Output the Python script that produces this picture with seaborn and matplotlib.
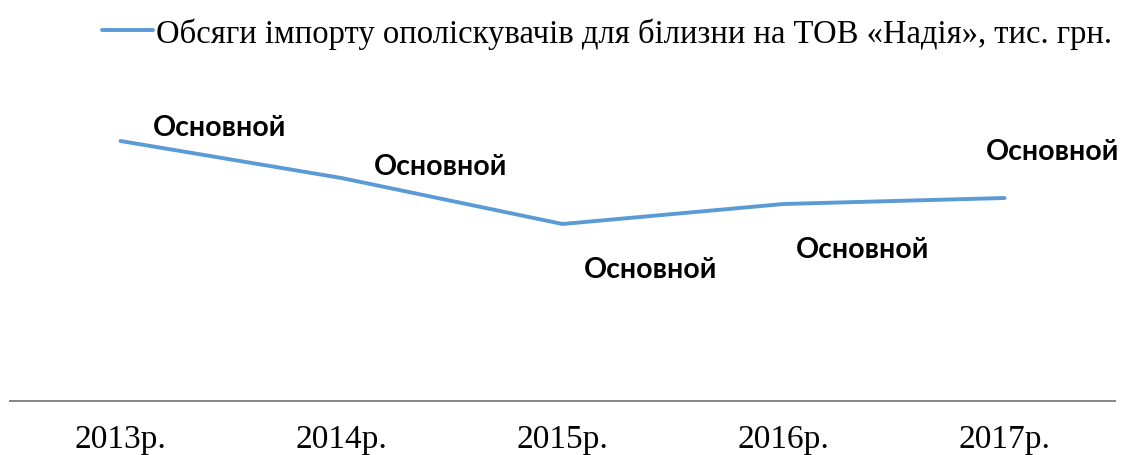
import matplotlib
matplotlib.use("Agg")
import matplotlib.pyplot as plt
import seaborn as sns
import pandas as pd

# data (no y scale shown, relative units)
years = ["2013р.", "2014р.", "2015р.", "2016р.", "2017р."]
import_volume = [260, 223, 177, 197, 203]
point_labels = ["Основной", "Основной", "Основной", "Основной", "Основной"]
series_name = "Обсяги імпорту ополіскувачів для білизни на ТОВ «Надія», тис. грн."

df = pd.DataFrame({"year": years, "value": import_volume})

sns.set_style("white")
plt.rcParams["font.family"] = ["Liberation Serif", "DejaVu Serif"]
plt.rcParams["text.color"] = "black"
plt.rcParams["xtick.color"] = "black"

fig = plt.figure(figsize=(11.25, 4.56), dpi=100)
ax = fig.add_axes([10 / 1125, 54 / 456, 1105 / 1125, 322 / 456])

sns.lineplot(data=df, x="year", y="value", ax=ax, color="#5B9BD5",
             linewidth=2.8, label=series_name, legend=False,
             solid_capstyle="round", solid_joinstyle="round")

ax.set_xlim(-0.5, 4.5)
ax.set_ylim(0, 322)

# label offsets (pixels) like the excel data labels
offsets = [(99, 14), (99, 12), (88, -45), (79, -45), (48, 47)]
for i, (lab, off) in enumerate(zip(point_labels, offsets)):
    ax.annotate(lab, (i, import_volume[i]), xytext=off, textcoords="offset pixels",
                ha="center", va="center", fontsize=20.5, fontweight="bold",
                family=["Lato", "DejaVu Sans"], color="black")

for s in ["top", "right", "left"]:
    ax.spines[s].set_visible(False)
ax.spines["bottom"].set_color("#868686")
ax.spines["bottom"].set_linewidth(1.4)
ax.set_yticks([])
ax.set_xlabel("")
ax.set_ylabel("")
ax.tick_params(axis="x", length=0, pad=16, labelsize=24, labelcolor="black")

handles, labels = ax.get_legend_handles_labels()
fig.legend(handles, labels, loc="center", bbox_to_anchor=(607 / 1125, 1 - 34 / 456),
           frameon=False, fontsize=23.5, handlelength=1.55, handletextpad=0.08,
           labelcolor="black")

fig.savefig("out.png", dpi=100)
